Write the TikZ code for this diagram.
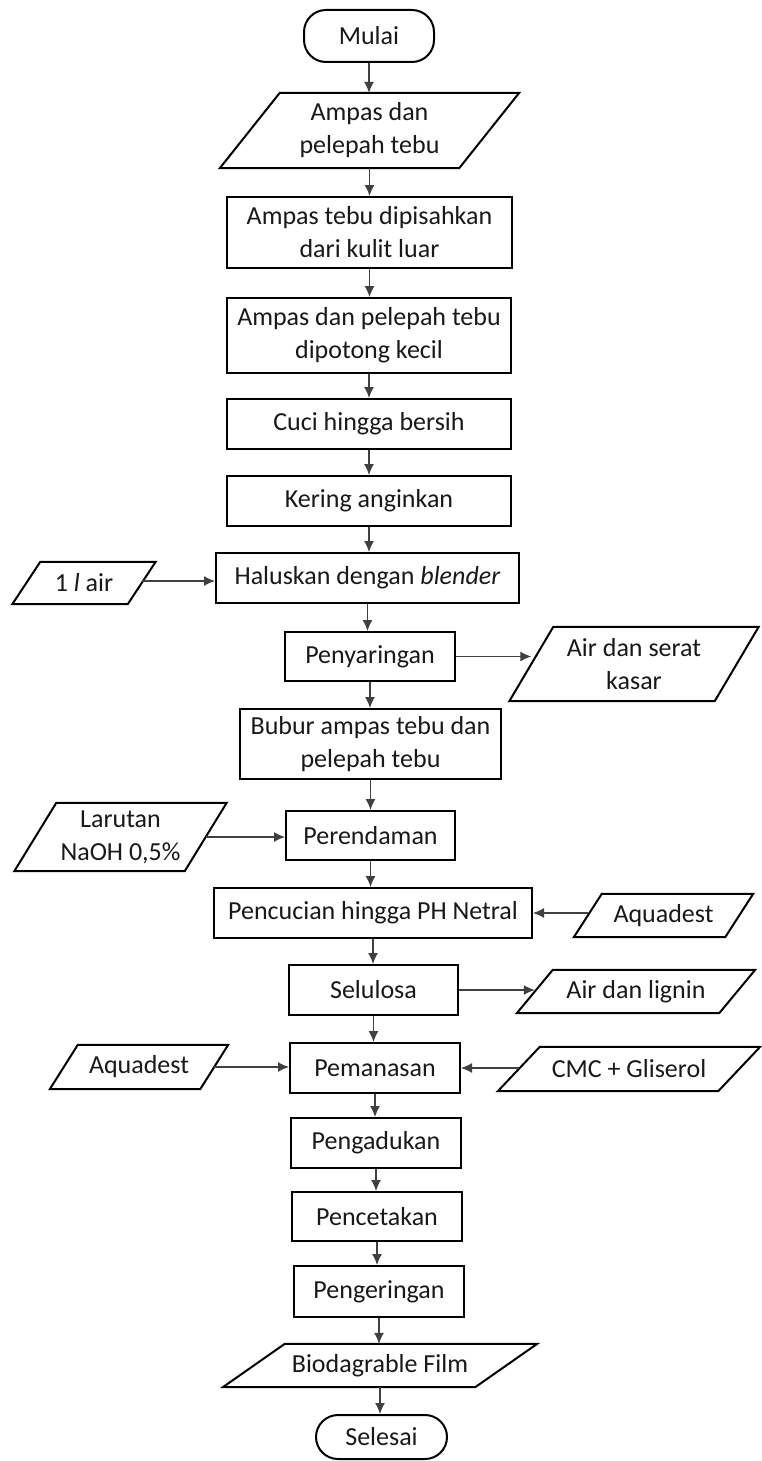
\documentclass[tikz,border=0pt]{standalone}
\usepackage{fontspec}
\setmainfont{Carlito}
\usetikzlibrary{arrows.meta,calc}
\tikzset{
  boxline/.style={draw=black,line width=2pt},
  proc/.style={boxline,rectangle,inner sep=0pt,align=center,font=\fontsize{26}{33}\selectfont,text=black!90},
  term/.style={proc,rounded corners=22pt},
  iotext/.style={rectangle,inner sep=0pt,align=center,font=\fontsize{26}{33}\selectfont,text=black!90},
  flow/.style={draw=black!75,line width=1.3pt,-{Latex[length=11pt,width=10pt]}},
}
\newcommand\pio[2]{\draw[boxline,line join=miter] ([xshift=-#2pt]#1.south west) -- ([xshift=-#2pt]#1.south east) -- ([xshift=#2pt]#1.north east) -- ([xshift=#2pt]#1.north west) -- cycle;}
\begin{document}
\begin{tikzpicture}[x=1pt,y=-1pt]
\useasboundingbox[fill=white] (0,0) rectangle (762,1461);
% main column
\node[term,minimum width=130pt,minimum height=52pt] (mulai) at (369,36) {Mulai};
\node[iotext,minimum width=239pt,minimum height=75pt] (p1) at (369.5,130.5) {Ampas dan\\pelepah tebu};
\pio{p1}{30}
\node[proc,minimum width=285pt,minimum height=71pt] (b1) at (369.5,232.5) {Ampas tebu dipisahkan\\dari kulit luar};
\node[proc,minimum width=284pt,minimum height=75pt] (b2) at (369,335.5) {Ampas dan pelepah tebu\\dipotong kecil};
\node[proc,minimum width=284pt,minimum height=50pt] (b3) at (369,424) {Cuci hingga bersih};
\node[proc,minimum width=284pt,minimum height=50pt] (b4) at (369,501) {Kering anginkan};
\node[proc,minimum width=303pt,minimum height=50pt] (b5) at (367.5,578) {Haluskan dengan \textit{blender}};
\node[iotext,minimum width=115pt,minimum height=42pt] (i1) at (84,583) {1 \textit{l} air};
\pio{i1}{14}
\node[proc,minimum width=170pt,minimum height=49pt] (b6) at (370,656.5) {Penyaringan};
\node[iotext,minimum width=205pt,minimum height=74pt] (o1) at (634,664) {Air dan serat\\kasar};
\pio{o1}{22}
\node[proc,minimum width=261pt,minimum height=70pt] (b7) at (370.5,744) {Bubur ampas tebu dan\\pelepah tebu};
\node[proc,minimum width=169pt,minimum height=49pt] (b8) at (370.5,835.5) {Perendaman};
\node[iotext,minimum width=170pt,minimum height=68pt] (i2) at (120.5,837) {Larutan\\NaOH 0,5\%};
\pio{i2}{21}
\node[proc,minimum width=318pt,minimum height=50pt] (b9) at (373,913) {Pencucian hingga PH Netral};
\node[iotext,minimum width=151pt,minimum height=43pt] (i3) at (663.5,915.5) {Aquadest};
\pio{i3}{14}
\node[proc,minimum width=169pt,minimum height=50pt] (b10) at (373.5,990) {Selulosa};
\node[iotext,minimum width=202pt,minimum height=43pt] (o2) at (636,991.5) {Air dan lignin};
\pio{o2}{18}
\node[proc,minimum width=170pt,minimum height=50pt] (b11) at (375,1068) {Pemanasan};
\node[iotext,minimum width=150pt,minimum height=44pt] (i4) at (139,1067) {Aquadest};
\pio{i4}{14}
\node[iotext,minimum width=220pt,minimum height=44pt] (i5) at (629,1069) {CMC + Gliserol};
\pio{i5}{21}
\node[proc,minimum width=170pt,minimum height=50pt] (b12) at (376,1143) {Pengadukan};
\node[proc,minimum width=170pt,minimum height=49pt] (b13) at (377,1216.5) {Pencetakan};
\node[proc,minimum width=170pt,minimum height=51pt] (b14) at (379,1291.5) {Pengeringan};
\node[iotext,minimum width=252pt,minimum height=43pt] (o3) at (380,1365.5) {Biodagrable Film};
\pio{o3}{31}
\node[term,minimum width=131pt,minimum height=44pt] (selesai) at (381.5,1437) {Selesai};
% vertical flow
\foreach \a/\b in {mulai/p1,p1/b1,b1/b2,b2/b3,b3/b4,b4/b5,b5/b6,b6/b7,b7/b8,b8/b9,b9/b10,b10/b11,b11/b12,b12/b13,b13/b14,b14/o3,o3/selesai}
  \draw[flow] (\a.south) -- (\a.south |- \b.north);
% side flows
\draw[flow] (i1.east |- 0,581) -- (b5.west |- 0,581);
\draw[flow] (b6.east) -- (b6.east -| o1.west);
\draw[flow] (i2.east) -- (i2.east -| b8.west);
\draw[flow] (i3.west |- b9.east) -- (b9.east);
\draw[flow] (b10.east) -- (b10.east -| o2.west);
\draw[flow] (i4.east) -- (i4.east -| b11.west);
\draw[flow] (i5.west |- b11.east) -- (b11.east);
\end{tikzpicture}
\end{document}
